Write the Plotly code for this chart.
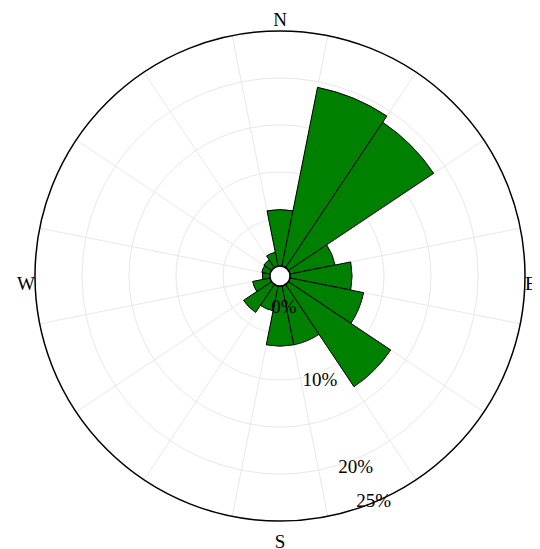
import plotly.graph_objects as go

# Data
directions = ["N", "NNE", "NE", "ENE", "E", "ESE", "SE", "SSE",
              "S", "SSW", "SW", "WSW", "W", "WNW", "NW", "NNW"]
frequency = [6.0, 19.4, 18.6, 4.9, 6.6, 8.0, 13.1, 6.4,
             6.4, 2.7, 3.6, 1.9, 0.8, 0.9, 1.0, 1.5]
radial_tick_values = [0, 10, 20, 25]
radial_tick_labels = ["0%", "10%", "20%", "25%"]
compass_angles = [0, 90, 180, 270]
compass_labels = ["N", "E", "S", "W"]

R_MAX = 25
sector = 360 / len(directions)
theta = [i * sector for i in range(len(directions))]

FONT = "Liberation Serif, Times New Roman, serif"
GRID = "#e8e8e8"

fig = go.Figure()

fig.add_trace(go.Barpolar(
    r=frequency,
    theta=theta,
    width=[sector] * len(directions),
    marker=dict(color="#008000", line=dict(color="black", width=1)),
    text=directions,
    hoverinfo="text+r",
    showlegend=False,
))

# radial value labels along the SSE direction (invisible markers only pad the text)
fig.add_trace(go.Scatterpolar(
    r=radial_tick_values,
    theta=[157.5] * len(radial_tick_values),
    mode="markers+text",
    marker=dict(size=[20, 0, 0, 0], opacity=0),
    text=radial_tick_labels,
    textposition=["bottom center", "bottom center", "bottom center", "middle center"],
    textfont=dict(family=FONT, size=19, color="black"),
    cliponaxis=False,
    hoverinfo="skip",
    showlegend=False,
))

# compass labels just outside the rim
fig.add_trace(go.Scatterpolar(
    r=[R_MAX] * len(compass_angles),
    theta=compass_angles,
    mode="markers+text",
    marker=dict(size=[0, 0, 18, 0], opacity=0),
    text=compass_labels,
    textposition=["top center", "bottom right", "bottom center", "bottom left"],
    textfont=dict(family=FONT, size=19, color="black"),
    cliponaxis=False,
    hoverinfo="skip",
    showlegend=False,
))

fig.update_layout(
    width=540,
    height=549,
    margin=dict(l=27, r=23, t=23, b=36),
    paper_bgcolor="white",
    plot_bgcolor="white",
    font=dict(family=FONT, size=19, color="black"),
    showlegend=False,
    polar=dict(
        domain=dict(x=[0, 1], y=[0, 1]),
        bgcolor="white",
        hole=0.041,
        radialaxis=dict(
            range=[0, R_MAX],
            tickvals=[5, 10, 15, 20],
            showticklabels=False,
            ticks="",
            showline=False,
            gridcolor=GRID,
            gridwidth=1,
        ),
        angularaxis=dict(
            direction="clockwise",
            rotation=90,
            tickmode="array",
            tickvals=[sector / 2 + i * sector for i in range(len(directions))],
            showticklabels=False,
            ticks="",
            showline=True,
            linecolor="black",
            linewidth=1.5,
            gridcolor=GRID,
            gridwidth=1,
        ),
    ),
)

fig.write_html("out.html")
